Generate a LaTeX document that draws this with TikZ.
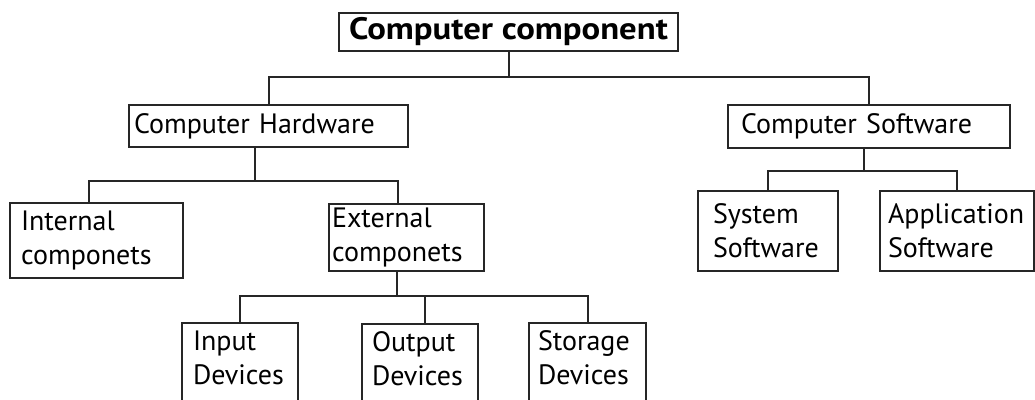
\documentclass[tikz,border=0pt]{standalone}
\usepackage{fontspec}
\setmainfont{PT Sans}
\newfontfamily\headfont[FakeStretch=1.12]{PT Sans}
\usetikzlibrary{calc}

\begin{document}
\begin{tikzpicture}[x=0.5pt,y=-0.5pt,
    box/.style={draw=black!85,line width=1pt,rectangle,inner sep=0pt,align=left,
                anchor=north west,font=\fontsize{14}{17}\selectfont},
    leaf/.style={box,inner ysep=4pt,text depth=40pt,minimum width=58pt},
    link/.style={draw=black!85,line width=1pt}]
    \clip (0,0) rectangle (1035,400);

    \node[box,align=center,font=\headfont\fontsize{15.5}{17}\selectfont\bfseries,
          minimum width=169.5pt,minimum height=19pt] (root) at (338,12) {Computer component};

    \node[box,minimum width=139.5pt,minimum height=21pt,text width=134.5pt] (hw) at (128,104) {Computer Hardware};
    \node[box,minimum width=141pt,minimum height=21.5pt,text width=128pt] (sw) at (727,104) {Computer Software};

    \node[box,minimum width=86.5pt,minimum height=37.5pt,text width=75.5pt] (int) at (9,202) {Internal\\componets};
    \node[box,minimum width=77.5pt,minimum height=33.5pt,text width=74.5pt] (ext) at (328,203) {External\\componets};
    \node[box,minimum width=70pt,minimum height=40pt,text width=55pt] (sys) at (697,190) {System\\Software};
    \node[box,minimum width=77pt,minimum height=40pt,text width=69pt] (app) at (879,190) {Application\\Software};

    \node[leaf,text width=47pt] (inp) at (181,322) {Input\\Devices};
    \node[leaf,text width=48pt] (out) at (361,323) {Output\\Devices};
    \node[leaf,minimum width=58.5pt,text width=49.5pt] (sto) at (528,322) {Storage\\Devices};

    % top level
    \draw[link] (root.south) -- ++(0,25) coordinate (b0);
    \draw[link] (b0) -| (hw.north);
    \draw[link] (b0) -| (sw.north);
    % hardware
    \draw[link] ($(hw.south)+(-14,0)$) -- ++(0,33) coordinate (b1);
    \draw[link] (b1) -| ($(int.north)+(-8,0)$);
    \draw[link] (b1) -| ($(ext.north)+(-9,0)$);
    % external parts
    \draw[link] ($(ext.south)+(-10,0)$) -- ++(0,24) coordinate (b2);
    \draw[link] (b2) -| (inp.north);
    \draw[link] (b2) -| ($(out.north)+(5,0)$);
    \draw[link] (b2) -| (sto.north);
    % software
    \draw[link] ($(sw.south)+(-5,0)$) -- ++(0,22) coordinate (b3);
    \draw[link] (b3) -| (sys.north);
    \draw[link] (b3) -| (app.north);
\end{tikzpicture}
\end{document}
